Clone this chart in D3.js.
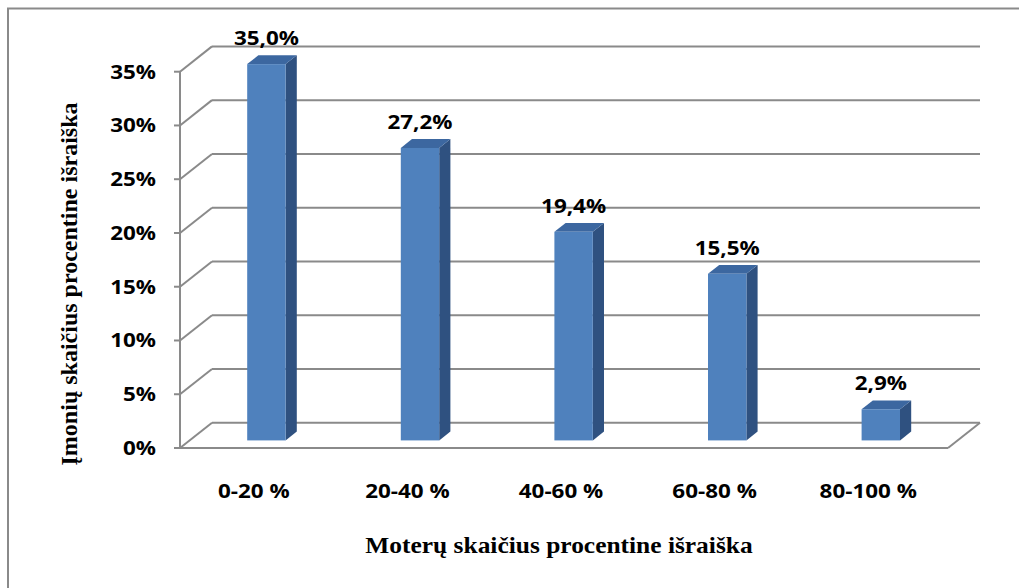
<!DOCTYPE html>
<html>
<head>
<meta charset="utf-8">
<script src="https://cdn.jsdelivr.net/npm/d3@7"></script>
<style>
  html, body { margin: 0; padding: 0; background: #ffffff; }
  svg { display: block; }
</style>
</head>
<body>
<svg id="chart" width="1019" height="588"></svg>
<script>
const categories = ["0-20 %", "20-40 %", "40-60 %", "60-80 %", "80-100 %"];
const values = [35.0, 27.2, 19.4, 15.5, 2.9];
const valueLabels = ["35,0%", "27,2%", "19,4%", "15,5%", "2,9%"];
const yTicks = [0, 5, 10, 15, 20, 25, 30, 35];
const yTickLabels = ["0%", "5%", "10%", "15%", "20%", "25%", "30%", "35%"];
const xTitle = "Moterų skaičius procentine išraiška";
const yTitle = "Įmonių skaičius procentine išraiška";

const svg = d3.select("#chart");
const W = 1019, H = 588;

svg.append("rect").attr("width", W).attr("height", H).attr("fill", "#fff");
// outer chart border (right/bottom run outside the picture)
svg.append("rect").attr("x", 8).attr("y", 8.5).attr("width", 1030).attr("height", 600)
  .attr("fill", "none").attr("stroke", "#8a8a8a").attr("stroke-width", 2);

const y = d3.scaleLinear().domain([0, 35]).range([448, 71.7]);
const x = d3.scaleBand().domain(categories).range([180, 948]);
const DX = 32, DY = -25.3;   // depth of the 3D plot box
const F0 = 0.3, F1 = 0.65;   // bar depth fractions (front, back)
const gridColor = "#8a8a8a";
const SANS = "'Open Sans', 'Liberation Sans', sans-serif";
const SERIF = "'Liberation Serif', 'DejaVu Serif', serif";
const SX = 1.18;

const grid = svg.append("g").attr("fill", "none").attr("stroke", gridColor).attr("stroke-width", 2);
const x0 = x.range()[0], x1 = x.range()[1];

// back wall gridlines
grid.selectAll("line.back").data(yTicks).join("line")
  .attr("x1", x0 + DX).attr("x2", x1 + DX)
  .attr("y1", d => y(d) + DY).attr("y2", d => y(d) + DY);
// side wall diagonals
grid.selectAll("line.diag").data(yTicks).join("line")
  .attr("x1", x0).attr("x2", x0 + DX)
  .attr("y1", d => y(d)).attr("y2", d => y(d) + DY);
// front vertical axis
grid.append("line").attr("x1", x0).attr("x2", x0).attr("y1", y(0)).attr("y2", y(35));
// tick marks
grid.selectAll("line.tick").data(yTicks).join("line")
  .attr("x1", x0 - 6).attr("x2", x0)
  .attr("y1", d => y(d)).attr("y2", d => y(d));
// floor front edge and right edge
grid.append("line").attr("x1", x0).attr("x2", x1).attr("y1", y(0)).attr("y2", y(0));
grid.append("line").attr("x1", x1).attr("x2", x1 + DX).attr("y1", y(0)).attr("y2", y(0) + DY);

// bars
const bw = x.bandwidth() * 0.25;
const ddx = (F1 - F0) * DX, ddy = (F1 - F0) * DY;
const bars = svg.append("g");
categories.forEach((c, i) => {
  const cx = x(c) + x.bandwidth() / 2 + F0 * DX;
  const xl = cx - bw / 2, xr = cx + bw / 2;
  const yb = y(0) + F0 * DY, yt = y(values[i]) + F0 * DY;
  const g = bars.append("g");
  g.append("polygon").attr("points", [[xr, yt], [xr + ddx, yt + ddy], [xr + ddx, yb + ddy], [xr, yb]].join(" "))
    .attr("fill", "#2f5180");
  g.append("polygon").attr("points", [[xl, yt], [xl + ddx, yt + ddy], [xr + ddx, yt + ddy], [xr, yt]].join(" "))
    .attr("fill", "#3c67a0");
  g.append("rect").attr("x", xl).attr("y", yt).attr("width", bw).attr("height", yb - yt)
    .attr("fill", "#4f81bd");
  svg.append("text")
    .attr("transform", `translate(${cx},${yt - 19}) scale(${SX},1)`)
    .attr("text-anchor", "middle").attr("font-family", SANS).attr("font-weight", "bold")
    .attr("font-size", 19).attr("fill", "#000").text(valueLabels[i]);
});

// y tick labels
svg.append("g").selectAll("text").data(yTicks).join("text")
  .attr("transform", d => `translate(156,${y(d) + 7}) scale(${SX},1)`)
  .attr("text-anchor", "end").attr("font-family", SANS).attr("font-weight", "bold")
  .attr("font-size", 19).attr("fill", "#000")
  .text((d, i) => yTickLabels[i]);

// category labels
svg.append("g").selectAll("text").data(categories).join("text")
  .attr("transform", d => `translate(${x(d) + x.bandwidth() / 2 - 3},498) scale(${SX},1)`)
  .attr("text-anchor", "middle").attr("font-family", SANS).attr("font-weight", "bold")
  .attr("font-size", 19).attr("fill", "#000").text(d => d);

// axis titles
svg.append("text")
  .attr("transform", `translate(559,553) scale(1.06,1)`)
  .attr("text-anchor", "middle").attr("font-family", SERIF).attr("font-weight", "bold")
  .attr("font-size", 24).attr("fill", "#000").text(xTitle);
svg.append("text")
  .attr("transform", `translate(77,284) rotate(-90)`)
  .attr("text-anchor", "middle").attr("font-family", SERIF).attr("font-weight", "bold")
  .attr("font-size", 24).attr("fill", "#000").text(yTitle);
</script>
</body>
</html>
